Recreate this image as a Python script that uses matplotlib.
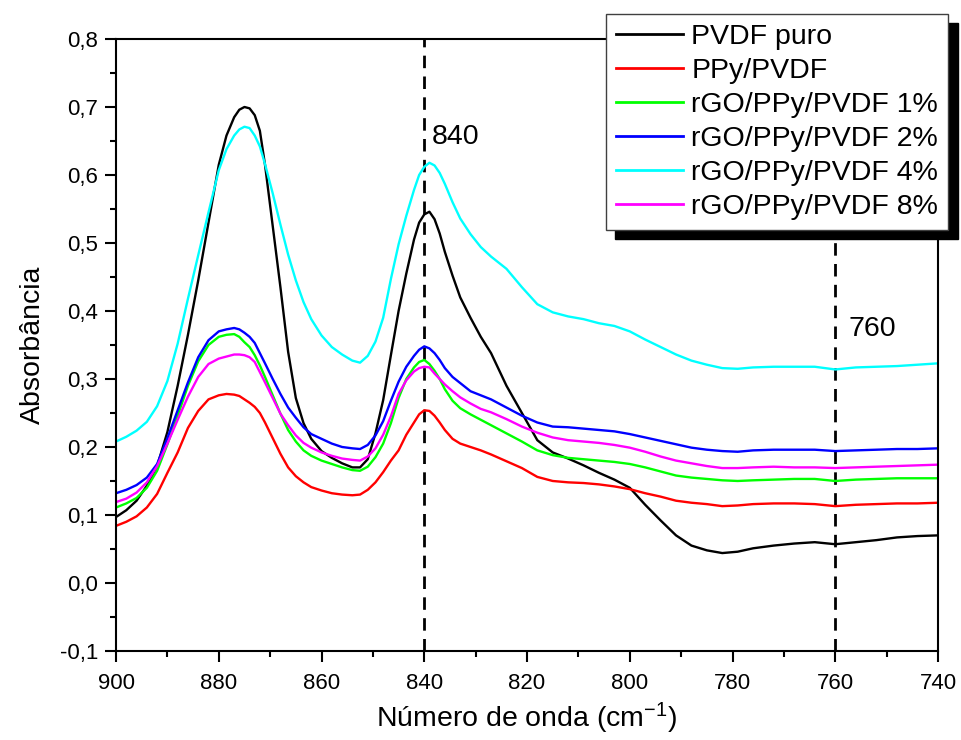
import matplotlib
matplotlib.use("Agg")
import matplotlib.pyplot as plt
from matplotlib.ticker import MultipleLocator, FuncFormatter

# wavenumber grid (cm-1) shared by all spectra
wavenumber = [900, 898, 896, 894, 892, 890, 888, 886, 884, 882,
              880, 878.5, 877, 876, 875, 874, 873, 872, 871, 869.5,
              868, 866.5, 865, 863.5, 862, 860, 858, 856, 854, 852.5,
              851, 849.5, 848, 846.5, 845, 843.5, 842, 841, 840, 839,
              838, 837, 836, 834.5, 833, 831, 829, 827, 824, 821,
              818, 815, 812, 809, 806, 803, 800, 797, 794, 791,
              788, 785, 782, 779, 776, 772, 768, 764, 760, 756,
              752, 748, 744, 740]

pvdf_puro = [0.097, 0.107, 0.121, 0.143, 0.172, 0.222, 0.29, 0.365, 0.445, 0.53,
             0.615, 0.658, 0.685, 0.696, 0.700, 0.698, 0.688, 0.665, 0.615, 0.525,
             0.435, 0.34, 0.272, 0.235, 0.212, 0.194, 0.184, 0.176, 0.170, 0.170,
             0.182, 0.22, 0.269, 0.335, 0.40, 0.455, 0.505, 0.530, 0.542, 0.546,
             0.535, 0.514, 0.487, 0.452, 0.42, 0.39, 0.362, 0.338, 0.29, 0.25,
             0.21, 0.192, 0.183, 0.173, 0.162, 0.152, 0.14, 0.115, 0.092, 0.07,
             0.055, 0.048, 0.044, 0.046, 0.051, 0.055, 0.058, 0.060, 0.057, 0.060,
             0.063, 0.067, 0.069, 0.070]

ppy_pvdf = [0.084, 0.09, 0.098, 0.111, 0.131, 0.162, 0.192, 0.228, 0.253, 0.27,
            0.276, 0.278, 0.277, 0.275, 0.27, 0.265, 0.259, 0.250, 0.236, 0.213,
            0.19, 0.17, 0.157, 0.148, 0.141, 0.136, 0.132, 0.130, 0.129, 0.130,
            0.137, 0.148, 0.163, 0.18, 0.195, 0.218, 0.236, 0.248, 0.254, 0.253,
            0.246, 0.236, 0.225, 0.212, 0.205, 0.2, 0.195, 0.189, 0.179, 0.169,
            0.156, 0.15, 0.148, 0.147, 0.145, 0.142, 0.138, 0.132, 0.127, 0.121,
            0.118, 0.116, 0.113, 0.114, 0.116, 0.117, 0.117, 0.116, 0.113, 0.115,
            0.116, 0.117, 0.117, 0.118]

rgo_1 = [0.111, 0.117, 0.125, 0.14, 0.165, 0.204, 0.246, 0.29, 0.326, 0.35,
         0.362, 0.365, 0.366, 0.362, 0.354, 0.347, 0.335, 0.32, 0.303, 0.276,
         0.249, 0.225, 0.208, 0.195, 0.187, 0.180, 0.175, 0.170, 0.166, 0.165,
         0.171, 0.185, 0.205, 0.235, 0.272, 0.30, 0.317, 0.325, 0.328, 0.322,
         0.312, 0.300, 0.285, 0.268, 0.257, 0.248, 0.24, 0.232, 0.22, 0.208,
         0.195, 0.188, 0.184, 0.182, 0.18, 0.178, 0.175, 0.17, 0.164, 0.158,
         0.155, 0.153, 0.151, 0.150, 0.151, 0.152, 0.153, 0.153, 0.150, 0.152,
         0.153, 0.154, 0.154, 0.154]

rgo_2 = [0.132, 0.137, 0.144, 0.155, 0.175, 0.213, 0.254, 0.295, 0.332, 0.357,
         0.370, 0.373, 0.375, 0.373, 0.368, 0.362, 0.353, 0.338, 0.323, 0.300,
         0.278, 0.258, 0.243, 0.229, 0.219, 0.212, 0.205, 0.200, 0.198, 0.197,
         0.203, 0.217, 0.238, 0.268, 0.296, 0.318, 0.334, 0.343, 0.348, 0.345,
         0.338, 0.328, 0.316, 0.303, 0.294, 0.282, 0.276, 0.27, 0.258, 0.246,
         0.236, 0.23, 0.229, 0.227, 0.225, 0.223, 0.219, 0.214, 0.209, 0.204,
         0.199, 0.196, 0.194, 0.193, 0.195, 0.196, 0.196, 0.196, 0.194, 0.195,
         0.196, 0.197, 0.197, 0.198]

rgo_4 = [0.208, 0.215, 0.224, 0.237, 0.26, 0.297, 0.352, 0.418, 0.482, 0.545,
         0.607, 0.638, 0.658, 0.667, 0.671, 0.669, 0.658, 0.642, 0.616, 0.573,
         0.527, 0.483, 0.445, 0.413, 0.388, 0.364, 0.347, 0.336, 0.327, 0.324,
         0.334, 0.355, 0.39, 0.447, 0.498, 0.54, 0.578, 0.60, 0.612, 0.618,
         0.614, 0.603, 0.587, 0.56, 0.536, 0.513, 0.494, 0.48, 0.462, 0.435,
         0.41, 0.398, 0.392, 0.388, 0.382, 0.378, 0.37, 0.358, 0.347, 0.336,
         0.327, 0.321, 0.316, 0.315, 0.317, 0.318, 0.318, 0.318, 0.314, 0.317,
         0.318, 0.319, 0.321, 0.323]

rgo_8 = [0.119, 0.124, 0.133, 0.148, 0.172, 0.205, 0.24, 0.274, 0.303, 0.322,
         0.330, 0.333, 0.336, 0.336, 0.335, 0.332, 0.325, 0.31, 0.295, 0.272,
         0.249, 0.232, 0.217, 0.206, 0.199, 0.192, 0.187, 0.183, 0.181, 0.180,
         0.186, 0.198, 0.218, 0.245, 0.278, 0.298, 0.311, 0.316, 0.318, 0.317,
         0.308, 0.300, 0.292, 0.282, 0.273, 0.264, 0.256, 0.251, 0.241, 0.23,
         0.221, 0.214, 0.21, 0.208, 0.206, 0.203, 0.199, 0.193, 0.186, 0.18,
         0.176, 0.172, 0.169, 0.169, 0.17, 0.171, 0.170, 0.170, 0.169, 0.170,
         0.171, 0.172, 0.173, 0.174]

labels = ["PVDF puro", "PPy/PVDF", "rGO/PPy/PVDF 1%", "rGO/PPy/PVDF 2%",
          "rGO/PPy/PVDF 4%", "rGO/PPy/PVDF 8%"]
colors = ["#000000", "#ff0000", "#00ff00", "#0000ff", "#00ffff", "#ff00ff"]
marked_bands = [840, 760]

plt.rcParams["font.family"] = ["Liberation Sans", "DejaVu Sans"]
plt.rcParams["mathtext.default"] = "regular"

fig = plt.figure(figsize=(9.62, 7.40), dpi=100)
ax = fig.add_axes([0.1206, 0.1203, 0.8545, 0.827])

series = [pvdf_puro, ppy_pvdf, rgo_1, rgo_2, rgo_4, rgo_8]
for ys, lab, c in zip(series, labels, colors):
    ax.plot(wavenumber, ys, color=c, lw=1.7, label=lab, solid_joinstyle="round")

for band in marked_bands:
    ax.axvline(band, color="black", lw=2.0, ls=(0, (4.5, 3)), zorder=1)

ax.text(838.6, 0.656, "840", fontsize=20.5, ha="left", va="center")
ax.text(757.5, 0.3735, "760", fontsize=20.5, ha="left", va="center")

ax.set_xlim(900, 740)
ax.set_ylim(-0.1, 0.8)
ax.xaxis.set_major_locator(MultipleLocator(20))
ax.xaxis.set_minor_locator(MultipleLocator(10))
ax.yaxis.set_major_locator(MultipleLocator(0.1))
ax.yaxis.set_minor_locator(MultipleLocator(0.05))
ax.yaxis.set_major_formatter(
    FuncFormatter(lambda v, p: f"{v:.1f}".replace(".", ",").replace("-0,0", "0,0")))
ax.xaxis.set_major_formatter(FuncFormatter(lambda v, p: f"{v:.0f}"))

ax.tick_params(which="both", direction="out", width=1.5, labelsize=16,
               top=False, right=False)
ax.tick_params(which="major", length=8)
ax.tick_params(axis="x", which="major", pad=8)
ax.tick_params(axis="y", which="major", pad=5)
ax.tick_params(which="minor", length=4.5)
for s in ax.spines.values():
    s.set_linewidth(1.5)

ax.set_xlabel("Número de onda (cm$^{-1}$)", fontsize=20.5, labelpad=5)
ax.set_ylabel("Absorbância", fontsize=20.5, labelpad=10)

leg = ax.legend(loc="upper right", bbox_to_anchor=(948 / 962, 1 - 14 / 740),
                bbox_transform=fig.transFigure, borderaxespad=0, fontsize=20.5,
                frameon=True, fancybox=False, framealpha=1, edgecolor="#404040",
                handlelength=2.35, handletextpad=0.3, labelspacing=0.28,
                borderpad=0.35,
                shadow={"ox": 7, "oy": -6.5, "color": "black", "alpha": 1})
leg.get_frame().set_linewidth(1.0)
for line in leg.get_lines():
    line.set_linewidth(2.0)

fig.savefig("out.png", dpi=100)
